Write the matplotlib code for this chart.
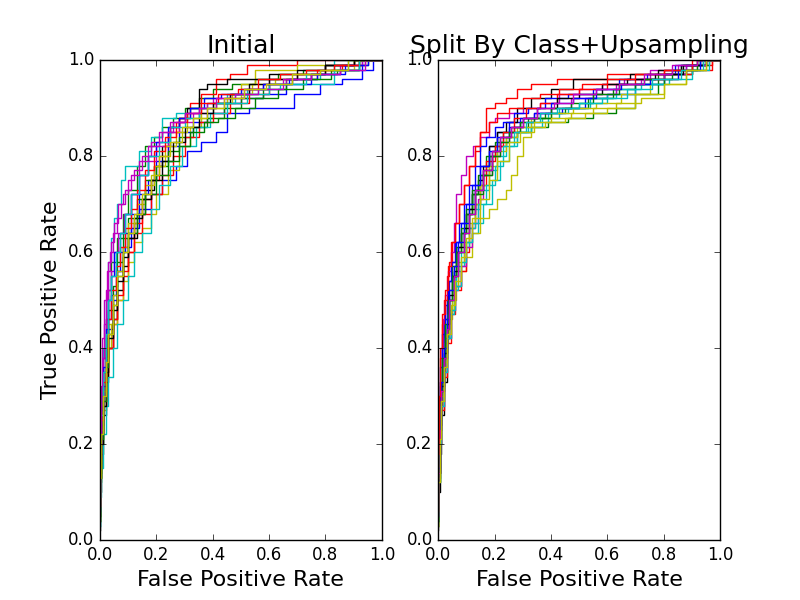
import matplotlib
matplotlib.use("Agg")
import matplotlib.pyplot as plt

plt.style.use("classic")

# ROC curves, panel 1 (Initial) -- colours follow the classic b g r c m y k cycle
left_fpr = [
    [0, .005, .01, .02, .03, .045, .06, .08, .11, .14, .18, .22, .27, .31, .36, .41, .45, .53, .6, .69, .78, .86, .93, .97, 1],
    [0, .005, .01, .02, .03, .04, .06, .08, .1, .13, .16, .19, .22, .26, .3, .35, .4, .47, .55, .63, .72, .8, .88, .95, 1],
    [0, .005, .01, .02, .03, .045, .06, .08, .1, .12, .15, .18, .21, .24, .28, .32, .36, .41, .46, .52, .57, .7, .85, 1],
    [0, .004, .008, .012, .02, .03, .04, .05, .06, .075, .09, .14, .18, .22, .27, .32, .38, .45, .52, .6, .7, .83, 1],
    [0, .005, .01, .015, .02, .03, .04, .05, .065, .08, .1, .12, .15, .18, .22, .26, .3, .35, .4, .46, .53, .6, .7, .8, .9, 1],
    [0, .005, .01, .02, .03, .04, .06, .08, .1, .12, .15, .18, .2, .24, .28, .32, .36, .4, .45, .5, .55, .62, .7, .8, .9, 1],
    [0, .005, .01, .02, .03, .045, .06, .08, .1, .13, .16, .19, .22, .25, .28, .31, .35, .38, .45, .52, .6, .7, .8, .9, 1],
    [0, .005, .01, .02, .03, .04, .055, .07, .09, .11, .14, .17, .2, .24, .28, .33, .38, .44, .5, .58, .66, .75, .85, .93, 1],
    [0, .005, .01, .02, .03, .045, .06, .08, .1, .13, .16, .2, .24, .28, .33, .38, .44, .5, .58, .66, .75, .84, .92, 1],
    [0, .005, .01, .02, .03, .045, .06, .08, .1, .12, .15, .18, .22, .26, .3, .35, .4, .46, .53, .6, .68, .77, .86, .94, 1],
    [0, .005, .01, .02, .03, .045, .06, .08, .1, .12, .15, .18, .21, .25, .29, .34, .39, .45, .52, .6, .68, .78, .88, 1],
    [0, .005, .01, .02, .03, .04, .05, .065, .085, .11, .14, .17, .2, .24, .28, .33, .38, .44, .51, .58, .66, .75, .85, .93, 1],
    [0, .005, .01, .02, .03, .045, .06, .08, .1, .13, .16, .19, .23, .27, .31, .36, .41, .47, .54, .62, .7, .8, .9, 1],
    [0, .005, .01, .02, .03, .045, .06, .08, .1, .12, .15, .18, .22, .26, .3, .35, .4, .46, .53, .6, .7, .8, .9, 1],
    [0, .005, .01, .02, .03, .04, .05, .07, .09, .11, .14, .17, .2, .24, .28, .32, .37, .43, .5, .58, .67, .77, .87, .95, 1],
    [0, .005, .01, .02, .03, .045, .06, .08, .1, .13, .16, .2, .24, .28, .32, .37, .42, .48, .55, .63, .72, .82, .92, 1],
    [0, .005, .01, .02, .03, .04, .055, .07, .09, .11, .13, .16, .19, .23, .27, .31, .36, .42, .49, .56, .64, .73, .83, .92, 1],
    [0, .005, .01, .02, .03, .04, .055, .07, .09, .11, .14, .17, .21, .25, .3, .35, .41, .48, .56, .64, .73, .83, .92, 1],
    [0, .004, .008, .015, .025, .035, .045, .06, .075, .09, .11, .14, .17, .21, .25, .3, .35, .41, .48, .56, .65, .75, .85, .94, 1],
    [0, .005, .01, .02, .03, .045, .06, .08, .1, .12, .15, .18, .21, .25, .29, .33, .38, .44, .51, .59, .68, .78, .88, 1],
]
left_tpr = [
    [.04, .14, .22, .3, .38, .44, .5, .56, .61, .65, .69, .72, .75, .78, .81, .83, .85, .89, .9, .9, .93, .95, .96, .98, 1],
    [.05, .18, .28, .38, .46, .52, .58, .63, .68, .73, .78, .82, .84, .86, .88, .9, .92, .94, .95, .96, .97, .98, .99, .99, 1],
    [.1, .16, .22, .28, .34, .4, .45, .5, .55, .6, .66, .71, .75, .8, .85, .88, .91, .93, .96, .97, .99, .99, 1, 1],
    [.03, .12, .22, .3, .4, .5, .58, .63, .67, .7, .75, .78, .81, .84, .88, .89, .9, .91, .93, .94, .95, .95, 1],
    [.06, .18, .3, .38, .45, .52, .58, .62, .66, .7, .72, .75, .77, .8, .83, .85, .87, .89, .9, .92, .93, .94, .96, .97, .99, 1],
    [.05, .12, .2, .27, .34, .4, .45, .5, .54, .58, .62, .65, .68, .72, .77, .82, .86, .88, .9, .92, .95, .98, .98, .99, .99, 1],
    [.02, .1, .18, .26, .33, .4, .46, .52, .57, .63, .68, .73, .78, .82, .86, .88, .9, .94, .95, .96, .96, .97, .98, .99, 1],
    [.04, .15, .24, .32, .4, .46, .51, .56, .6, .64, .68, .72, .75, .79, .82, .85, .87, .89, .91, .92, .93, .95, .97, .98, 1],
    [.05, .16, .26, .35, .42, .48, .53, .58, .63, .67, .71, .75, .78, .81, .84, .86, .88, .9, .92, .94, .96, .97, .98, 1],
    [.12, .17, .23, .29, .35, .4, .46, .51, .56, .6, .64, .68, .72, .76, .8, .84, .87, .89, .91, .93, .95, .96, .98, .99, 1],
    [.03, .09, .15, .22, .28, .34, .4, .45, .5, .55, .6, .64, .69, .74, .78, .82, .86, .89, .91, .93, .95, .96, .98, 1],
    [.05, .17, .28, .38, .46, .52, .56, .6, .64, .68, .72, .76, .79, .82, .85, .87, .89, .91, .92, .94, .95, .96, .97, .99, 1],
    [.04, .14, .23, .31, .38, .45, .51, .56, .61, .66, .7, .74, .78, .82, .85, .88, .9, .91, .93, .95, .96, .97, .98, 1],
    [.05, .13, .2, .28, .35, .42, .48, .54, .59, .63, .67, .71, .75, .79, .83, .86, .89, .91, .93, .95, .96, .97, .99, 1],
    [.06, .17, .27, .36, .44, .5, .55, .6, .64, .68, .72, .76, .8, .83, .86, .88, .9, .92, .93, .94, .95, .96, .97, .99, 1],
    [.04, .13, .21, .29, .36, .43, .49, .55, .6, .64, .68, .72, .76, .79, .82, .85, .87, .88, .9, .92, .94, .96, .98, 1],
    [.07, .16, .25, .33, .4, .46, .52, .57, .61, .65, .69, .73, .77, .81, .84, .87, .89, .91, .93, .94, .96, .97, .98, .99, 1],
    [.05, .16, .26, .35, .43, .5, .55, .6, .64, .68, .72, .76, .8, .83, .86, .88, .9, .91, .93, .94, .95, .97, .98, 1],
    [.07, .2, .32, .42, .5, .56, .6, .64, .67, .7, .73, .76, .79, .82, .85, .87, .89, .9, .92, .93, .94, .96, .97, .98, 1],
    [.04, .13, .22, .3, .37, .43, .49, .55, .6, .64, .68, .72, .76, .8, .83, .86, .88, .9, .92, .94, .95, .97, .98, 1],
]

# ROC curves, panel 2 (Split By Class+Upsampling)
right_fpr = [
    [0, .004, .008, .012, .02, .03, .04, .05, .065, .08, .1, .12, .15, .18, .21, .25, .3, .36, .44, .52, .6, .7, .8, .88, .95, 1],
    [0, .004, .008, .015, .025, .035, .05, .065, .08, .1, .12, .15, .18, .21, .24, .28, .33, .39, .46, .55, .63, .7, .78, .86, .93, 1],
    [0, .004, .008, .012, .02, .03, .04, .05, .06, .075, .09, .11, .13, .15, .17, .2, .24, .28, .33, .42, .5, .6, .7, .8, .9, .97, 1],
    [0, .005, .01, .015, .025, .035, .05, .065, .08, .1, .12, .14, .16, .19, .22, .25, .28, .32, .37, .43, .5, .6, .7, .8, .9, .95, 1],
    [0, .004, .008, .012, .018, .025, .035, .045, .055, .065, .08, .1, .125, .15, .18, .2, .25, .3, .36, .43, .5, .58, .66, .75, .85, .92, 1],
    [0, .005, .01, .015, .025, .035, .05, .065, .08, .1, .12, .15, .18, .21, .24, .26, .28, .3, .33, .38, .45, .52, .6, .7, .8, .88, .95, 1],
    [0, .005, .01, .02, .03, .04, .05, .065, .08, .1, .12, .14, .16, .18, .21, .24, .28, .33, .4, .48, .57, .68, .78, .86, .95, 1],
    [0, .004, .008, .015, .025, .035, .045, .06, .075, .09, .11, .13, .15, .17, .2, .23, .27, .32, .38, .46, .55, .64, .74, .84, .93, 1],
    [0, .005, .01, .015, .025, .035, .05, .065, .08, .1, .12, .14, .17, .2, .23, .27, .32, .38, .45, .53, .62, .7, .8, .9, .96, 1],
    [0, .005, .01, .02, .03, .045, .06, .08, .1, .11, .13, .15, .17, .2, .23, .27, .31, .36, .42, .5, .6, .7, .8, .9, .97, 1],
    [0, .005, .01, .02, .03, .04, .055, .07, .09, .11, .13, .15, .18, .21, .24, .28, .33, .39, .46, .54, .63, .72, .82, .9, .96, 1],
    [0, .005, .01, .02, .03, .045, .06, .08, .1, .12, .14, .16, .19, .22, .25, .29, .34, .4, .47, .55, .63, .72, .8, .88, .95, 1],
    [0, .005, .01, .02, .03, .04, .055, .07, .09, .11, .13, .15, .18, .21, .24, .28, .33, .4, .48, .56, .65, .75, .85, .92, 1],
    [0, .005, .01, .02, .03, .04, .055, .07, .09, .11, .13, .16, .19, .22, .26, .3, .35, .42, .5, .58, .67, .77, .87, .94, 1],
    [0, .005, .01, .02, .03, .04, .055, .07, .09, .11, .13, .15, .18, .21, .25, .29, .34, .4, .48, .56, .65, .75, .85, .93, 1],
    [0, .005, .01, .02, .03, .04, .055, .07, .09, .11, .13, .16, .19, .22, .25, .29, .34, .4, .47, .55, .64, .73, .83, .92, 1],
    [0, .004, .008, .015, .025, .035, .045, .06, .075, .09, .11, .13, .15, .18, .21, .25, .3, .36, .43, .51, .6, .7, .8, .9, 1],
    [0, .005, .01, .02, .03, .045, .06, .08, .1, .12, .14, .17, .2, .23, .27, .31, .36, .42, .5, .58, .67, .76, .86, .94, 1],
    [0, .005, .01, .02, .03, .04, .055, .07, .09, .11, .13, .16, .19, .22, .26, .3, .35, .41, .48, .56, .64, .73, .83, .92, 1],
    [0, .005, .01, .02, .03, .045, .06, .08, .1, .12, .15, .18, .21, .25, .29, .34, .4, .47, .55, .63, .72, .8, .88, .95, 1],
]
right_tpr = [
    [.04, .15, .25, .32, .4, .46, .5, .54, .58, .62, .66, .7, .74, .78, .82, .85, .87, .88, .89, .9, .92, .93, .95, .97, .99, 1],
    [.03, .14, .24, .33, .4, .46, .52, .57, .61, .65, .69, .73, .76, .8, .82, .84, .85, .86, .87, .88, .89, .9, .93, .97, .99, 1],
    [.1, .2, .3, .38, .45, .5, .55, .58, .62, .66, .7, .74, .78, .81, .85, .9, .91, .92, .94, .95, .96, .96, .97, .97, .98, .99, 1],
    [.03, .12, .2, .28, .36, .42, .47, .52, .56, .6, .62, .64, .66, .7, .75, .79, .82, .85, .86, .88, .9, .91, .93, .95, .97, .99, 1],
    [.05, .15, .25, .33, .4, .46, .51, .56, .6, .66, .72, .76, .8, .82, .84, .87, .88, .89, .9, .91, .93, .94, .95, .96, .98, .99, 1],
    [.03, .12, .2, .28, .35, .41, .46, .5, .53, .56, .59, .64, .67, .69, .71, .73, .76, .8, .84, .86, .87, .88, .89, .9, .93, .95, .98, 1],
    [.02, .1, .18, .26, .33, .42, .5, .55, .6, .64, .68, .72, .75, .78, .82, .85, .87, .9, .92, .94, .96, .96, .97, .98, .99, 1],
    [.05, .16, .27, .36, .43, .49, .54, .58, .62, .66, .7, .74, .78, .82, .84, .86, .87, .89, .9, .92, .93, .94, .96, .97, .99, 1],
    [.04, .14, .23, .31, .38, .45, .5, .55, .6, .64, .68, .72, .76, .8, .83, .85, .86, .88, .89, .9, .92, .94, .95, .97, .99, 1],
    [.08, .14, .2, .27, .34, .41, .47, .52, .56, .6, .65, .7, .74, .79, .82, .85, .88, .9, .91, .93, .94, .95, .96, .97, .98, 1],
    [.04, .13, .21, .29, .36, .42, .47, .52, .57, .61, .65, .69, .73, .77, .8, .83, .85, .87, .89, .9, .92, .94, .95, .96, .98, 1],
    [.05, .13, .2, .28, .35, .42, .48, .53, .57, .61, .66, .71, .76, .8, .83, .85, .87, .89, .9, .92, .93, .95, .96, .97, .99, 1],
    [.03, .13, .22, .3, .37, .43, .48, .53, .58, .62, .66, .7, .74, .78, .81, .84, .86, .88, .89, .9, .91, .93, .96, .98, 1],
    [.04, .14, .24, .32, .39, .45, .51, .56, .61, .65, .69, .73, .77, .81, .84, .86, .88, .9, .92, .93, .95, .96, .97, .99, 1],
    [.05, .15, .25, .33, .4, .46, .52, .57, .62, .66, .7, .74, .78, .81, .84, .86, .88, .89, .91, .92, .94, .95, .96, .98, 1],
    [.04, .14, .23, .31, .38, .44, .5, .55, .6, .64, .68, .72, .76, .8, .83, .85, .87, .88, .9, .91, .93, .95, .96, .98, 1],
    [.06, .18, .3, .4, .47, .52, .57, .62, .66, .7, .74, .78, .82, .85, .87, .89, .9, .92, .93, .94, .95, .96, .97, .98, 1],
    [.04, .12, .2, .28, .35, .42, .48, .53, .58, .62, .66, .7, .74, .78, .82, .85, .87, .89, .9, .91, .92, .94, .96, .98, 1],
    [.05, .14, .23, .31, .38, .44, .5, .55, .6, .64, .68, .73, .77, .81, .84, .86, .88, .9, .91, .93, .94, .95, .97, .99, 1],
    [.03, .12, .21, .29, .36, .43, .49, .54, .59, .63, .67, .71, .75, .79, .83, .85, .87, .88, .89, .9, .91, .92, .95, .98, 1],
]

titles = ["Initial", "Split By Class+Upsampling"]


def draw_panel(ax, fprs, tprs, title):
    for fpr, tpr in zip(fprs, tprs):
        ax.step(fpr, tpr, where="pre")
    ax.set_xlim(0, 1)
    ax.set_ylim(0, 1)
    ax.set_title(title, fontsize=18)
    ax.set_xlabel("False Positive Rate", fontsize=16)


fig, (ax1, ax2) = plt.subplots(1, 2, figsize=(8, 6), dpi=100)
fig.patch.set_facecolor("white")
draw_panel(ax1, left_fpr, left_tpr, titles[0])
draw_panel(ax2, right_fpr, right_tpr, titles[1])
ax1.set_ylabel("True Positive Rate", fontsize=16)

fig.savefig("out.png", dpi=100, facecolor="white")
plt.close()
